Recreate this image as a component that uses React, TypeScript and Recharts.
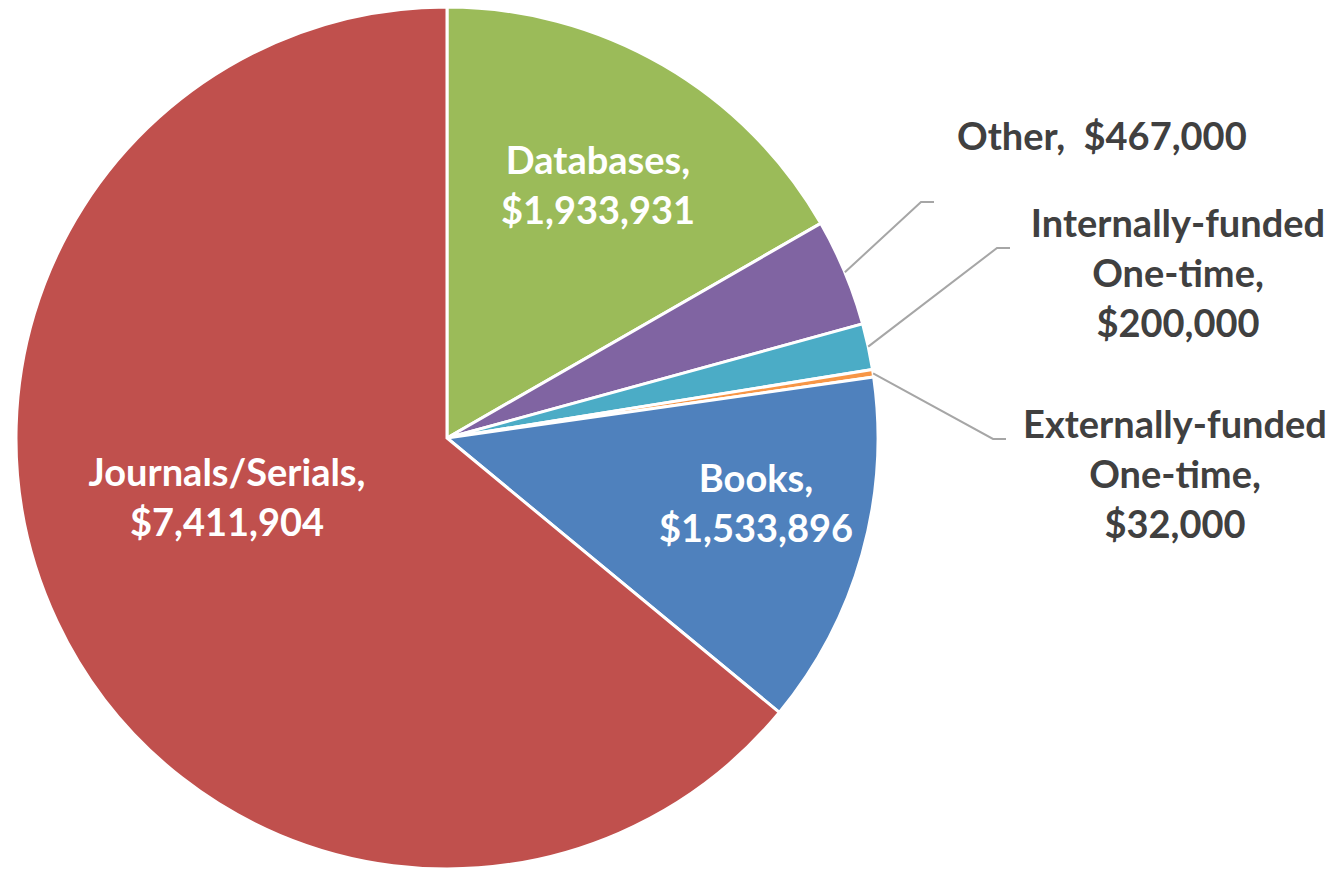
import { PieChart, Pie, Cell } from "recharts";

const categories = [
  "Databases",
  "Other",
  "Internally-funded One-time",
  "Externally-funded One-time",
  "Books",
  "Journals/Serials",
];
const amounts = [1933931, 467000, 200000, 32000, 1533896, 7411904];
const colors = ["#9BBB59", "#8064A2", "#4BACC6", "#F79646", "#4F81BD", "#C0504D"];

// label text split into lines, as in the original chart
const labelLines = [
  ["Databases,", "$1,933,931"],
  ["Other,\u00A0 $467,000"],
  ["Internally-funded", "One-time,", "$200,000"],
  ["Externally-funded", "One-time,", "$32,000"],
  ["Books,", "$1,533,896"],
  ["Journals/Serials,", "$7,411,904"],
];

const data = categories.map((name, i) => ({ name, value: amounts[i] }));

const RADIAN = Math.PI / 180;
const FONT = "Lato, 'Open Sans', sans-serif";
const FONT_SIZE = 38;
const LINE_H = 50;

// where each label sits, relative to pie center (first baseline)
type Layout = {
  inside: boolean;
  dx: number;
  dy: number;
  anchor: "start" | "middle";
  elbow?: [number, number];
};
const layout: Layout[] = [
  { inside: true, dx: 151, dy: -264, anchor: "middle" },
  { inside: false, dx: 510, dy: -288, anchor: "start", elbow: [474, -236] },
  { inside: false, dx: 731, dy: -201, anchor: "middle", elbow: [550, -190] },
  { inside: false, dx: 728, dy: 0, anchor: "middle", elbow: [546, 1] },
  { inside: true, dx: 309, dy: 54, anchor: "middle" },
  { inside: true, dx: -220, dy: 48, anchor: "middle" },
];

// eslint-disable-next-line @typescript-eslint/no-explicit-any
function renderLabel(props: any) {
  const { cx, cy, midAngle, outerRadius, index } = props;
  const l = layout[index];
  const lines = labelLines[index];
  const x = cx + l.dx;
  const y = cy + l.dy;
  const text = (
    <text
      x={x}
      y={y}
      textAnchor={l.anchor}
      fill={l.inside ? "#FFFFFF" : "#404040"}
      fontFamily={FONT}
      fontWeight={700}
      fontSize={FONT_SIZE}
    >
      {lines.map((s, i) => (
        <tspan key={i} x={x} y={y + i * LINE_H}>
          {s}
        </tspan>
      ))}
    </text>
  );
  if (l.inside || !l.elbow) return <g key={index}>{text}</g>;

  const sx = cx + outerRadius * Math.cos(-midAngle * RADIAN);
  const sy = cy + outerRadius * Math.sin(-midAngle * RADIAN);
  const ex = cx + l.elbow[0];
  const ey = cy + l.elbow[1];
  return (
    <g key={index}>
      <polyline
        points={`${sx},${sy} ${ex},${ey} ${ex + 13},${ey}`}
        fill="none"
        stroke="#A6A6A6"
        strokeWidth={2}
      />
      {text}
    </g>
  );
}

export default function App() {
  return (
    <div style={{ position: "absolute", left: 0, top: 0, background: "#fff" }}>
      <PieChart width={1340} height={869} margin={{ top: 0, right: 0, bottom: 0, left: 0 }}>
        <Pie
          data={data}
          dataKey="value"
          nameKey="name"
          cx={447}
          cy={438}
          outerRadius={431}
          startAngle={90}
          endAngle={-270}
          stroke="#FFFFFF"
          strokeWidth={3}
          label={renderLabel}
          labelLine={false}
          isAnimationActive={false}
        >
          {data.map((d, i) => (
            <Cell key={d.name} fill={colors[i]} />
          ))}
        </Pie>
      </PieChart>
    </div>
  );
}
